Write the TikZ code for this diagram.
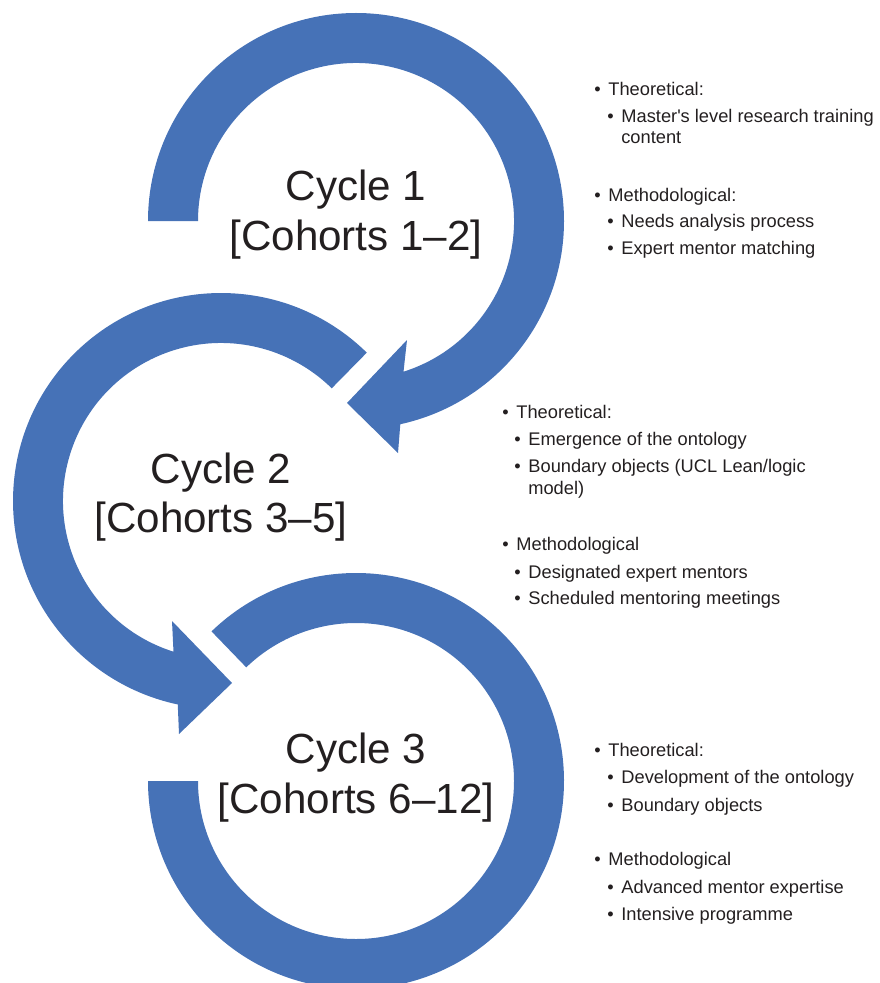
\documentclass[tikz,border=0pt]{standalone}
\usepackage{fontspec}
\setmainfont{Liberation Sans}
\usetikzlibrary{calc}

\definecolor{cycleblue}{RGB}{70,114,183}
\definecolor{inkgrey}{RGB}{35,31,32}

\newcommand{\bul}{\makebox[8pt][l]{\textbullet}}

\tikzset{
    ring/.style={fill=cycleblue, draw=none},
    cyclelabel/.style={anchor=base, inner sep=0pt, text=inkgrey, font=\fontsize{24}{28}\selectfont},
    note/.style={anchor=base west, inner sep=0pt, text=inkgrey, font=\fontsize{10.4}{12}\selectfont}
}

\begin{document}
\begin{tikzpicture}[x=0.02cm, y=-0.02cm]
            \useasboundingbox (0,0) rectangle (879,983);
            \clip (0,0) rectangle (879,983);

            \coordinate (c1) at (356,221);
            \coordinate (c2) at (221,501);
            \coordinate (c3) at (356,781);

            \fill[ring] ([shift={(180:208)}]c1) arc[start angle=180, end angle=437.7, radius=208]
                -- (398,453) -- (347,403) -- (407,340)
                -- ([shift={(72.5:158)}]c1) arc[start angle=432.5, end angle=180, radius=158] -- cycle;

            \fill[ring] ([shift={(-45.5:208)}]c2) arc[start angle=-45.5, end angle=-258, radius=208]
                -- (179,734) -- (232,683) -- (172,621)
                -- ([shift={(107.5:158)}]c2) arc[start angle=-252.5, end angle=-45.5, radius=158] -- cycle;

            \fill[ring] ([shift={(226:208)}]c3) arc[start angle=226, end angle=540, radius=208]
                -- ([shift={(180:158)}]c3) arc[start angle=540, end angle=226, radius=158] -- cycle;

            \node[cyclelabel] (cyc1) at (356,200) {Cycle 1};
            \node[cyclelabel] (coh1) at (356,250) {[Cohorts 1--2]};
            \node[cyclelabel] (cyc2) at (221,483) {Cycle 2};
            \node[cyclelabel] (coh2) at (221,532) {[Cohorts 3--5]};
            \node[cyclelabel] (cyc3) at (356,763) {Cycle 3};
            \node[cyclelabel] (coh3) at (356,813) {[Cohorts 6--12]};

            \node[note] (a1) at (594,96) {\bul Theoretical:};
            \node[note] (a2) at (607,123) {\bul Master\textquotesingle s level research training};
            \node[note] (a3) at (621,144) {content};
            \node[note] (a4) at (594,202) {\bul Methodological:};
            \node[note] (a5) at (607,228) {\bul Needs analysis process};
            \node[note] (a6) at (607,255) {\bul Expert mentor matching};

            \node[note] (b1) at (502,418) {\bul Theoretical:};
            \node[note] (b2) at (514,445) {\bul Emergence of the ontology};
            \node[note] (b3) at (514,472) {\bul Boundary objects (UCL Lean/logic};
            \node[note] (b4) at (528,494) {model)};
            \node[note] (b5) at (502,550) {\bul Methodological};
            \node[note] (b6) at (514,578) {\bul Designated expert mentors};
            \node[note] (b7) at (514,604) {\bul Scheduled mentoring meetings};

            \node[note] (d1) at (594,756) {\bul Theoretical:};
            \node[note] (d2) at (607,783) {\bul Development of the ontology};
            \node[note] (d3) at (607,811) {\bul Boundary objects};
            \node[note] (d4) at (594,865) {\bul Methodological};
            \node[note] (d5) at (607,893) {\bul Advanced mentor expertise};
            \node[note] (d6) at (607,920) {\bul Intensive programme};

        \end{tikzpicture}
\end{document}
